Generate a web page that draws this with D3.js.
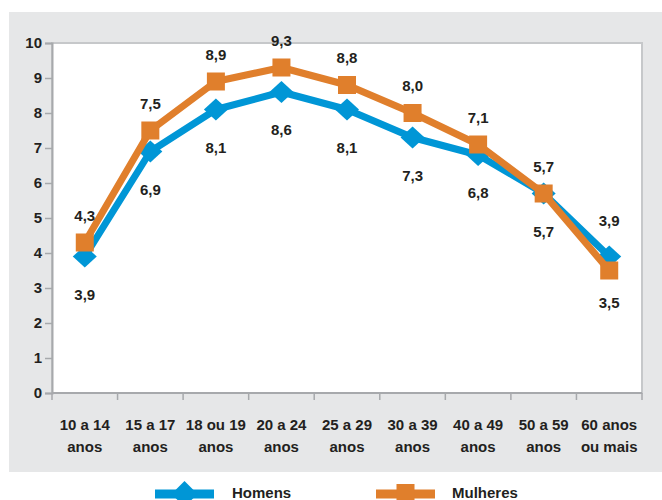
<!DOCTYPE html>
<html>
<head>
<meta charset="utf-8">
<script src="https://cdn.jsdelivr.net/npm/d3@7"></script>
<style>
  body { margin: 0; background: #ffffff; }
  text { font-family: "Liberation Sans", Arial, sans-serif; font-weight: bold; fill: #231f20; }
</style>
</head>
<body>
<div id="chart"></div>
<script>
// age groups (x axis) and two-line tick labels
const categories = ["10 a 14 anos", "15 a 17 anos", "18 ou 19 anos", "20 a 24 anos", "25 a 29 anos",
    "30 a 39 anos", "40 a 49 anos", "50 a 59 anos", "60 anos ou mais"];
const tickLines = [["10 a 14", "anos"], ["15 a 17", "anos"], ["18 ou 19", "anos"], ["20 a 24", "anos"],
    ["25 a 29", "anos"], ["30 a 39", "anos"], ["40 a 49", "anos"], ["50 a 59", "anos"], ["60 anos", "ou mais"]];
const homens = [3.9, 6.9, 8.1, 8.6, 8.1, 7.3, 6.8, 5.7, 3.9];
const mulheres = [4.3, 7.5, 8.9, 9.3, 8.8, 8.0, 7.1, 5.7, 3.5];
const yTicks = [0, 1, 2, 3, 4, 5, 6, 7, 8, 9, 10];

const width = 662, height = 500;
const plot = {left: 52, right: 642, top: 43, bottom: 393};
const blue = "#0096d6", orange = "#e07f2c";

const svg = d3.select("#chart").append("svg")
    .attr("width", width)
    .attr("height", height);

// grey panel behind the chart
svg.append("rect")
    .attr("x", 9).attr("y", 12)
    .attr("width", width - 9).attr("height", 460)
    .attr("fill", "#e6e7e8");

// white plot area
svg.append("rect")
    .attr("x", plot.left).attr("y", plot.top)
    .attr("width", plot.right - plot.left).attr("height", plot.bottom - plot.top)
    .attr("fill", "#ffffff")
    .attr("stroke", "#c6c8ca")
    .attr("stroke-width", 2);

const x = d3.scaleBand()
    .domain(categories)
    .range([plot.left, plot.right])
    .padding(0);
const cx = d => x(d) + x.bandwidth() / 2;

const y = d3.scaleLinear()
    .domain([0, 10])
    .range([plot.bottom, plot.top]);

// y axis
const yAxis = svg.append("g")
    .attr("transform", `translate(${plot.left},0)`)
    .call(d3.axisLeft(y).tickValues(yTicks).tickSize(7).tickPadding(3).tickFormat(d3.format("d")));
yAxis.select(".domain").attr("stroke", "#a7a9ac").attr("stroke-width", 2);
yAxis.selectAll(".tick line").attr("stroke", "#a7a9ac").attr("stroke-width", 1.5);
yAxis.selectAll(".tick text").style("font-size", "15px").attr("fill", "#231f20");

// x axis line + boundary ticks
const xAxis = svg.append("g");
xAxis.append("line")
    .attr("x1", plot.left).attr("x2", plot.right)
    .attr("y1", plot.bottom).attr("y2", plot.bottom)
    .attr("stroke", "#a7a9ac").attr("stroke-width", 2);
const edges = categories.map(c => x(c)).concat([x.range()[1]]);
xAxis.selectAll(".xtick")
    .data(edges)
    .enter().append("line")
    .attr("x1", d => d).attr("x2", d => d)
    .attr("y1", plot.bottom).attr("y2", plot.bottom + 7)
    .attr("stroke", "#a7a9ac").attr("stroke-width", 1.5);

const xLabels = xAxis.selectAll(".xlab")
    .data(categories)
    .enter().append("text")
    .attr("text-anchor", "middle")
    .attr("x", d => cx(d))
    .attr("y", 430)
    .style("font-size", "15px");
xLabels.each(function (d, i) {
    const t = d3.select(this);
    tickLines[i].forEach((line, j) => {
        t.append("tspan")
            .attr("x", cx(d))
            .attr("dy", j === 0 ? 0 : 22)
            .text(line);
    });
});

const fmt = v => d3.format(".1f")(v).replace(".", ",");

const line = d3.line()
    .x((d, i) => cx(categories[i]))
    .y(d => y(d));

function drawSeries(values, color, marker) {
    const g = svg.append("g");
    g.append("path")
        .datum(values)
        .attr("d", line)
        .attr("fill", "none")
        .attr("stroke", color)
        .attr("stroke-width", 7)
        .attr("stroke-linejoin", "round");

    if (marker === "diamond") {
        g.selectAll(".mk")
            .data(values)
            .enter().append("path")
            .attr("d", (d, i) => {
                const px = cx(categories[i]), py = y(d);
                return `M${px},${py - 11}L${px + 12},${py}L${px},${py + 11}L${px - 12},${py}Z`;
            })
            .attr("fill", color);
    } else {
        g.selectAll(".mk")
            .data(values)
            .enter().append("rect")
            .attr("x", (d, i) => cx(categories[i]) - 9)
            .attr("y", d => y(d) - 9)
            .attr("width", 18).attr("height", 18)
            .attr("fill", color);
    }
}

drawSeries(homens, blue, "diamond");
drawSeries(mulheres, orange, "square");

// data labels: men below, women above, swapped at the last age group
const last = categories.length - 1;
svg.selectAll(".lab-h")
    .data(homens)
    .enter().append("text")
    .attr("text-anchor", "middle")
    .attr("x", (d, i) => cx(categories[i]))
    .attr("y", (d, i) => y(d) + (i === last ? -36 : 38) + 5)
    .style("font-size", "15px")
    .text(fmt);

svg.selectAll(".lab-m")
    .data(mulheres)
    .enter().append("text")
    .attr("text-anchor", "middle")
    .attr("x", (d, i) => cx(categories[i]))
    .attr("y", (d, i) => y(d) + (i === last ? 32 : -27) + 5)
    .style("font-size", "15px")
    .text(fmt);

// legend
const legend = [
    {name: "Homens", color: blue, marker: "diamond", x: 155},
    {name: "Mulheres", color: orange, marker: "square", x: 376}
];
const ly = 494;
const lg = svg.selectAll(".leg")
    .data(legend)
    .enter().append("g");
lg.append("line")
    .attr("x1", d => d.x).attr("x2", d => d.x + 59)
    .attr("y1", ly).attr("y2", ly)
    .attr("stroke", d => d.color)
    .attr("stroke-width", 9);
lg.filter(d => d.marker === "diamond").append("path")
    .attr("d", d => {
        const px = d.x + 29.5;
        return `M${px},${ly - 13}L${px + 13},${ly}L${px},${ly + 13}L${px - 13},${ly}Z`;
    })
    .attr("fill", d => d.color);
lg.filter(d => d.marker === "square").append("rect")
    .attr("x", d => d.x + 20.5).attr("y", ly - 10)
    .attr("width", 18).attr("height", 20)
    .attr("fill", d => d.color);
lg.append("text")
    .attr("x", d => d.x + (d.marker === "diamond" ? 77 : 76))
    .attr("y", ly + 4)
    .style("font-size", "15px")
    .text(d => d.name);
</script>
</body>
</html>
